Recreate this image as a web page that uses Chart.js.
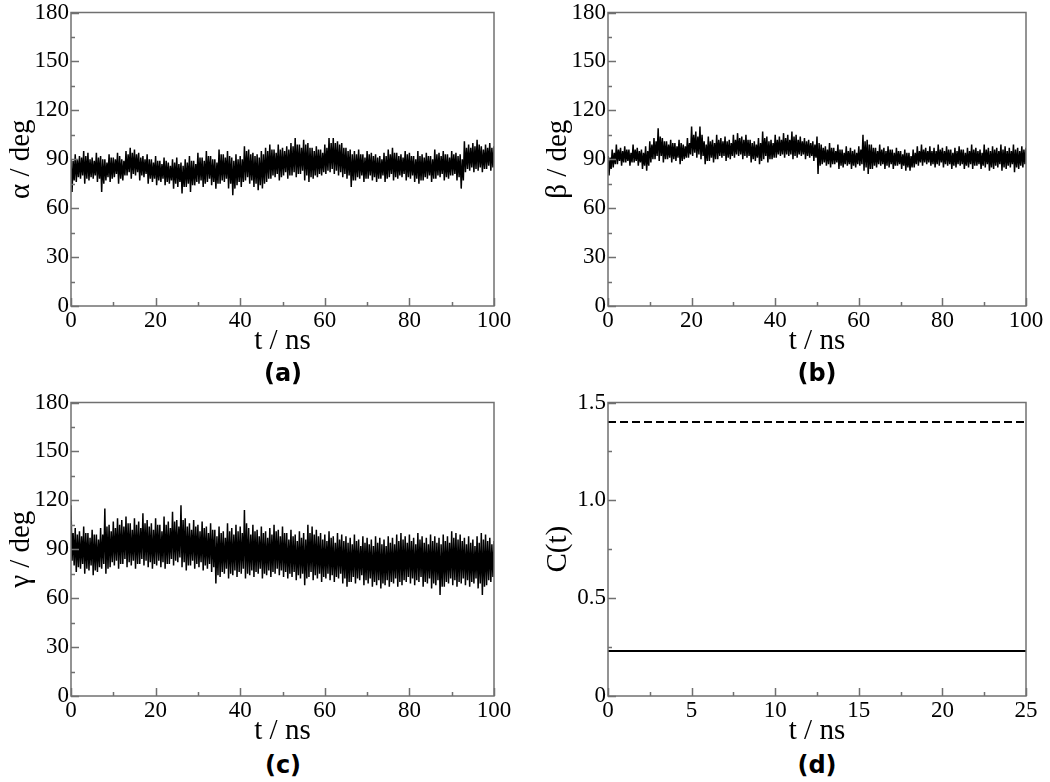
<!DOCTYPE html>
<html>
<head>
<meta charset="utf-8">
<title>Angles et C(t)</title>
<script src="https://cdn.jsdelivr.net/npm/chart.js@4.4.1/dist/chart.umd.min.js"></script>
<style>
    body { margin: 0; background: #fff; width: 1050px; height: 782px; position: relative; overflow: hidden; }
    .panel { position: absolute; }
    .tag { position: absolute; font: bold 24px "DejaVu Sans", sans-serif; color: #000; transform: translate(-50%, -50%); }
</style>
</head>
<body>
<div class="panel" style="left:0px;top:-1px"><canvas id="chartA" width="525" height="361"></canvas></div>
<div class="panel" style="left:537px;top:-1px"><canvas id="chartB" width="513" height="361"></canvas></div>
<div class="panel" style="left:0px;top:389px"><canvas id="chartC" width="525" height="361"></canvas></div>
<div class="panel" style="left:537px;top:389px"><canvas id="chartD" width="513" height="361"></canvas></div>
<div class="tag" style="left:283px;top:373px">(a)</div>
<div class="tag" style="left:817px;top:373px">(b)</div>
<div class="tag" style="left:283px;top:765px">(c)</div>
<div class="tag" style="left:817px;top:765px">(d)</div>

<script>
// Temps (ns) : lectures à chaque ns (High/Low) et à chaque demi-ns (High2/Low2)
const timeNs = Array.from({ length: 101 }, (_, i) => i);

// (a) angle alpha
const alphaHigh = [90,93,92,95,94,91,94,92,90,93, 91,94,90,95,97,96,94,92,93,90,
                   92,89,91,88,90,91,88,90,92,89, 94,91,95,92,90,96,93,95,91,93,
                   92,98,96,94,93,95,97,99,96,99, 97,98,100,103,99,102,100,97,98,96,
                   99,103,103,101,100,97,96,95,96,93, 95,94,93,92,94,96,97,94,93,95,
                   94,92,95,93,94,92,96,94,95,93, 95,94,93,101,99,100,102,98,99,100, 98];
const alphaLow  = [70,76,78,75,77,78,76,70,77,76, 79,75,77,80,78,80,77,79,75,76,
                   74,76,74,75,72,73,69,73,70,74, 75,73,76,74,72,75,76,72,68,74,
                   73,77,75,73,71,72,76,78,79,77, 80,78,80,79,81,77,76,78,79,80,
                   81,82,81,80,79,78,73,77,78,76, 78,77,76,78,76,79,77,78,79,77,
                   78,76,75,77,78,76,78,79,77,78, 80,77,72,82,83,82,83,82,84,83, 84];
const alphaHigh2 = [89,90,91,92,90,89,91,90,88,91, 90,92,89,93,94,93,91,90,90,88,
                    89,87,89,86,88,87,86,88,89,87, 91,89,92,90,88,93,91,92,89,90,
                    90,95,93,92,91,93,95,96,94,96, 95,96,98,99,97,99,97,95,96,94,
                    97,100,100,99,97,95,93,93,93,91, 93,92,91,90,92,93,94,92,91,93,
                    92,90,92,91,92,90,93,92,93,91, 93,92,90,97,97,98,99,96,97,97];
const alphaLow2  = [77,79,80,78,79,80,78,75,79,78, 81,78,80,82,81,82,80,81,78,78,
                    77,78,76,77,75,76,73,75,74,76, 77,75,78,76,75,77,78,75,72,76,
                    76,79,77,75,74,75,78,80,81,79, 82,80,82,81,83,80,79,80,81,82,
                    83,84,83,82,81,80,77,79,80,78, 80,79,78,80,78,81,79,80,81,79,
                    80,78,77,79,80,78,80,81,79,80, 81,79,77,84,85,84,85,84,86,85];

// (b) angle beta
const betaHigh  = [92,96,99,97,98,96,99,97,96,98, 101,103,109,103,101,102,100,102,99,103,
                   110,107,110,101,104,102,105,103,104,102, 105,106,104,105,102,101,103,107,104,102,
                   105,104,106,105,107,105,104,103,102,101, 104,99,98,100,97,99,96,98,97,96,
                   98,105,102,99,97,99,97,98,96,97, 95,96,94,96,98,99,97,98,97,99,
                   97,98,96,97,98,96,97,99,97,96, 99,97,98,97,99,98,97,99,97,98, 97];
const betaLow   = [80,85,87,86,88,86,88,86,84,83, 88,90,89,88,90,88,89,87,90,91,
                   92,91,90,87,89,88,90,91,89,90, 91,92,90,91,88,89,87,90,88,90,
                   91,92,91,92,90,91,92,90,91,89, 81,87,86,85,87,84,85,86,84,85,
                   86,83,81,84,85,86,84,85,84,86, 84,83,83,85,86,86,87,86,85,86,
                   85,86,84,85,86,84,85,84,86,84, 85,83,84,85,83,84,85,82,84,85, 86];
const betaHigh2 = [91,94,96,95,96,94,96,95,94,95, 99,101,104,101,99,100,98,100,98,100,
                   105,104,105,99,101,100,102,101,101,100, 102,103,102,102,100,99,100,103,101,100,
                   102,102,103,102,104,102,101,101,100,99, 100,97,96,97,95,96,94,95,95,94,
                   96,101,99,97,95,96,95,96,94,95, 93,94,92,94,95,96,95,95,95,96,
                   95,96,94,95,96,94,95,96,95,94, 96,95,96,95,96,95,95,96,95,96];
const betaLow2  = [84,87,89,88,89,88,89,88,86,86, 90,92,92,90,91,90,91,89,91,93,
                   94,93,92,89,91,90,92,92,91,92, 93,93,92,92,90,91,89,92,90,91,
                   93,93,93,93,92,93,93,92,92,91, 86,88,87,87,88,86,87,87,86,87,
                   87,85,84,86,87,87,86,87,86,87, 86,85,85,87,88,88,88,87,87,88,
                   87,87,86,87,87,86,87,86,87,86, 87,85,86,87,85,86,87,85,86,87];

// (c) angle gamma
const gammaHigh = [117,103,101,104,100,102,99,103,115,105, 107,109,108,110,106,109,107,112,108,106,
                   109,105,110,107,113,108,117,109,106,108, 105,107,104,106,102,104,101,106,103,105,
                   104,114,103,105,102,104,101,103,105,102, 104,100,102,99,101,100,105,104,102,100,
                   99,101,98,100,99,98,97,99,96,98, 97,96,98,97,96,98,97,99,100,98,
                   99,97,100,98,97,99,98,97,99,98, 101,100,99,97,98,96,98,100,99,97, 95];
const gammaLow  = [83,76,78,75,77,74,76,78,75,79, 80,78,81,79,80,78,81,80,79,78,
                   80,79,78,81,80,82,79,77,80,78, 79,77,78,76,69,73,75,72,74,73,
                   75,72,74,73,75,72,74,73,75,74, 73,72,73,71,72,68,73,71,72,70,
                   72,71,70,72,69,67,70,69,71,68, 69,67,68,66,68,67,69,67,68,70,
                   69,68,70,67,69,66,68,62,67,69, 68,67,69,68,67,69,66,62,68,70, 73];
const gammaHigh2 = [100,99,98,100,97,99,96,99,104,101, 103,105,104,106,102,105,103,106,104,102,
                    105,101,105,103,107,104,108,104,102,104, 101,103,100,102,98,100,97,101,99,101,
                    100,106,99,101,98,100,97,99,101,98, 100,96,98,95,97,96,100,99,98,96,
                    95,97,94,96,95,94,93,95,92,94, 93,92,94,93,92,94,93,95,96,94,
                    95,93,96,94,93,95,94,93,95,94, 97,96,95,93,94,92,94,96,95,93];
const gammaLow2  = [80,79,81,78,80,77,79,81,78,82, 83,81,84,82,83,81,84,83,82,81,
                    83,82,81,84,83,85,82,80,83,81, 82,80,81,79,74,76,78,75,77,76,
                    78,75,77,76,78,75,77,76,78,77, 76,75,76,74,75,72,76,74,75,73,
                    75,74,73,75,72,70,73,72,74,71, 72,70,71,69,71,70,72,70,71,73,
                    72,71,73,70,72,69,71,67,70,72, 71,70,72,71,70,72,69,67,71,73];

// (d) fonction de corrélation
const corrTime   = [0, 5, 10, 15, 20, 25];
const corrDashed = [1.40, 1.40, 1.40, 1.40, 1.40, 1.40];
const corrSolid  = [0.23, 0.23, 0.23, 0.23, 0.23, 0.23];

const SERIF = '"Liberation Serif", "Times New Roman", serif';

/**
 * Construit la trace bruitée : haut / bas à chaque ns, puis haut2 / bas2 à la demi-ns
 */
function buildTrace(high, low, high2, low2) {
    const pts = [];
    timeNs.forEach((t, i) => {
        pts.push({ x: t, y: high[i] });
        pts.push({ x: t + 0.25, y: low[i] });
        if (i < high2.length) {
            pts.push({ x: t + 0.5, y: high2[i] });
            pts.push({ x: t + 0.75, y: low2[i] });
        }
    });
    return pts;
}

// Cadre gris + graduations intérieures (style xmgrace)
const frameTicks = {
    id: 'frameTicks',
    afterDatasetsDraw(chart, args, opts) {
        const { ctx, chartArea: a, scales } = chart;
        ctx.save();
        ctx.strokeStyle = '#707070';
        ctx.lineWidth = 1.5;
        ctx.beginPath();
        const mark = (axis, step, len) => {
            const s = scales[axis];
            for (let v = s.min; v <= s.max + 1e-9; v += step) {
                const p = Math.round(s.getPixelForValue(v)) + 0.5;
                if (axis === 'x') {
                    ctx.moveTo(p, a.bottom); ctx.lineTo(p, a.bottom - len);
                } else {
                    ctx.moveTo(a.left, p); ctx.lineTo(a.left + len, p);
                }
            }
        };
        mark('x', opts.xMajor, 8);
        mark('x', opts.xMajor / 2, 4);
        mark('y', opts.yMajor, 8);
        mark('y', opts.yMajor / 2, 4);
        ctx.stroke();
        ctx.strokeRect(a.left, a.top, a.right - a.left, a.bottom - a.top);
        ctx.restore();
    }
};

function makePanel(id, datasets, cfg) {
    const ctx = document.getElementById(id).getContext('2d');
    return new Chart(ctx, {
        type: 'line',
        data: { datasets: datasets },
        options: {
            responsive: false,
            animation: false,
            events: [],
            layout: { padding: { top: 11, bottom: 1, left: 0, right: cfg.padRight } },
            plugins: {
                legend: { display: false },
                tooltip: { enabled: false },
                frameTicks: { xMajor: cfg.xStep, yMajor: cfg.yStep }
            },
            elements: { point: { radius: 0 }, line: { tension: 0 } },
            scales: {
                x: {
                    type: 'linear', min: 0, max: cfg.xMax,
                    afterFit: s => { s.height = 53; },
                    grid: { display: false, drawTicks: false },
                    border: { display: false },
                    ticks: { stepSize: cfg.xStep, padding: 3, color: '#000', maxRotation: 0,
                             font: { family: SERIF, size: 23, lineHeight: 1 } },
                    title: { display: true, text: 't / ns', color: '#000', padding: { top: 0, bottom: 0 },
                             font: { family: SERIF, size: 29 } }
                },
                y: {
                    type: 'linear', min: 0, max: cfg.yMax,
                    afterFit: s => { s.width = 71; },
                    grid: { display: false, drawTicks: false },
                    border: { display: false },
                    ticks: { stepSize: cfg.yStep, padding: 2, color: '#000',
                             font: { family: SERIF, size: 23, lineHeight: 1 },
                             callback: cfg.yFormat || (v => String(v)) },
                    title: { display: true, text: cfg.yTitle, color: '#000', padding: { top: 4, bottom: 0 },
                             font: { family: SERIF, size: 29 } }
                }
            }
        },
        plugins: [frameTicks]
    });
}

function noisySet(high, low, high2, low2) {
    return [{ data: buildTrace(high, low, high2, low2), borderColor: '#000', borderWidth: 1.5, borderJoinStyle: 'bevel' }];
}

makePanel('chartA', noisySet(alphaHigh, alphaLow, alphaHigh2, alphaLow2),
          { xMax: 100, xStep: 20, yMax: 180, yStep: 30, yTitle: 'α / deg', padRight: 31 });
makePanel('chartB', noisySet(betaHigh, betaLow, betaHigh2, betaLow2),
          { xMax: 100, xStep: 20, yMax: 180, yStep: 30, yTitle: 'β / deg', padRight: 24 });
makePanel('chartC', noisySet(gammaHigh, gammaLow, gammaHigh2, gammaLow2),
          { xMax: 100, xStep: 20, yMax: 180, yStep: 30, yTitle: 'γ / deg', padRight: 31 });
makePanel('chartD', [
        { data: corrTime.map((t, i) => ({ x: t, y: corrDashed[i] })), borderColor: '#000', borderWidth: 2, borderDash: [8, 4] },
        { data: corrTime.map((t, i) => ({ x: t, y: corrSolid[i] })), borderColor: '#000', borderWidth: 2 }
    ],
    { xMax: 25, xStep: 5, yMax: 1.5, yStep: 0.5, yTitle: 'C(t)', padRight: 24,
      yFormat: v => (v === 0 ? '0' : v.toFixed(1)) });
</script>
</body>
</html>
